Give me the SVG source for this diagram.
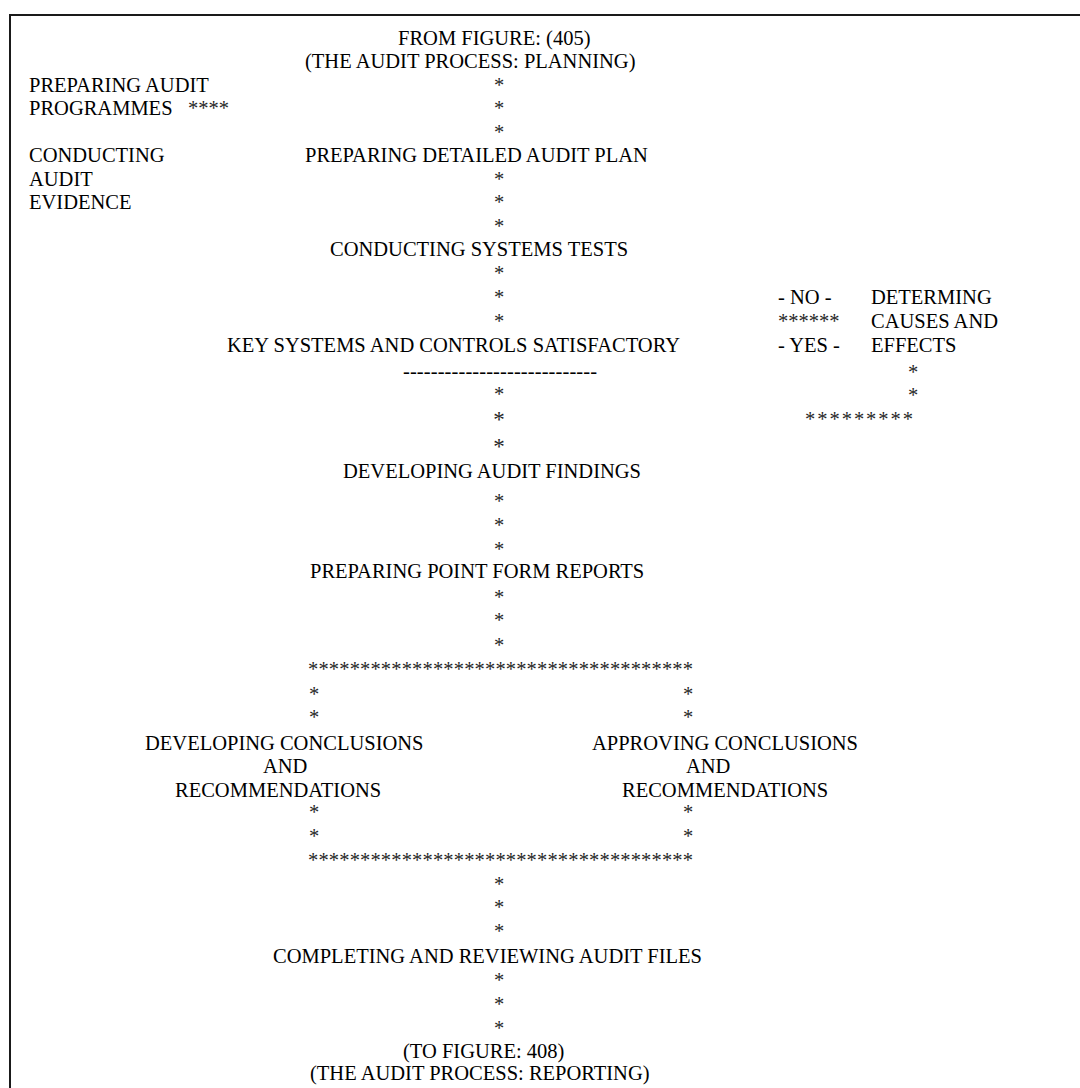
<svg xmlns="http://www.w3.org/2000/svg" width="1080" height="1088" viewBox="0 0 1080 1088">
<style>
text{font-family:"Liberation Serif","Times New Roman",serif;font-size:20.5px;fill:#000}
.c{text-anchor:middle}
.s{fill:#262626}
.big{font-size:23px}
.frame{fill:none;stroke:#1a1a1a;stroke-width:2}
</style>
<rect width="1080" height="1088" fill="#fff"/>
<path class="frame" d="M10 1088 V15 H1080"/>
<g id="n-from">
<text x="398" y="45">FROM FIGURE: (405)</text>
<text x="305" y="68">(THE AUDIT PROCESS: PLANNING)</text>
</g>
<g id="n-programmes">
<text x="29" y="92">PREPARING AUDIT</text>
<text x="29" y="115">PROGRAMMES</text>
</g>
<g id="n-evidence">
<text x="29" y="162">CONDUCTING</text>
<text x="29" y="186">AUDIT</text>
<text x="29" y="209">EVIDENCE</text>
</g>
<g id="n-plan"><text x="305" y="162">PREPARING DETAILED AUDIT PLAN</text></g>
<g id="n-tests"><text x="330" y="256">CONDUCTING SYSTEMS TESTS</text></g>
<g id="n-decision"><text x="227" y="352">KEY SYSTEMS AND CONTROLS SATISFACTORY</text></g>
<g id="n-causes">
<text x="871" y="304">DETERMING</text>
<text x="871" y="328">CAUSES AND</text>
<text x="871" y="352">EFFECTS</text>
</g>
<g id="n-findings"><text x="343" y="478">DEVELOPING AUDIT FINDINGS</text></g>
<g id="n-pointform"><text x="310" y="578">PREPARING POINT FORM REPORTS</text></g>
<g id="n-developing">
<text x="145" y="750">DEVELOPING CONCLUSIONS</text>
<text x="263" y="773">AND</text>
<text x="175" y="797">RECOMMENDATIONS</text>
</g>
<g id="n-approving">
<text x="592" y="750">APPROVING CONCLUSIONS</text>
<text x="686" y="773">AND</text>
<text x="622" y="797">RECOMMENDATIONS</text>
</g>
<g id="n-completing"><text x="273" y="963">COMPLETING AND REVIEWING AUDIT FILES</text></g>
<g id="n-to">
<text x="403" y="1058">(TO FIGURE: 408)</text>
<text x="310" y="1080">(THE AUDIT PROCESS: REPORTING)</text>
</g>
<g id="connectors">
<text class="s" x="188" y="115">****</text>
<text class="c s" x="499" y="92">*</text>
<text class="c s" x="499" y="115">*</text>
<text class="c s" x="499" y="139">*</text>
<text class="c s" x="499" y="186">*</text>
<text class="c s" x="499" y="209">*</text>
<text class="c s" x="499" y="233">*</text>
<text class="c s" x="499" y="280">*</text>
<text class="c s" x="499" y="304">*</text>
<text class="c s" x="499" y="328">*</text>
<text x="778" y="304">- NO -</text>
<text class="s" x="778" y="328">******</text>
<text x="778" y="352">- YES -</text>
<text x="403" y="378" textLength="194">----------------------------</text>
<text class="c s" x="499" y="401">*</text>
<text class="c s big" x="499" y="427">*</text>
<text class="c s big" x="499" y="454">*</text>
<text class="c s" x="913" y="379">*</text>
<text class="c s" x="913" y="402">*</text>
<text class="s" x="805" y="426" textLength="108">*********</text>
<text class="c s" x="499" y="508">*</text>
<text class="c s" x="499" y="532">*</text>
<text class="c s" x="499" y="556">*</text>
<text class="c s" x="499" y="604">*</text>
<text class="c s" x="499" y="627">*</text>
<text class="c s" x="499" y="652">*</text>
<text class="s" x="308" y="676" textLength="385">*************************************</text>
<text class="c s" x="314" y="701">*</text>
<text class="c s" x="314" y="724">*</text>
<text class="c s" x="688" y="701">*</text>
<text class="c s" x="688" y="724">*</text>
<text class="c s" x="314" y="819">*</text>
<text class="c s" x="314" y="843">*</text>
<text class="c s" x="688" y="819">*</text>
<text class="c s" x="688" y="843">*</text>
<text class="s" x="308" y="867" textLength="385">*************************************</text>
<text class="c s" x="499" y="891">*</text>
<text class="c s" x="499" y="914">*</text>
<text class="c s" x="499" y="938">*</text>
<text class="c s" x="499" y="987">*</text>
<text class="c s" x="499" y="1011">*</text>
<text class="c s" x="499" y="1035">*</text>
</g>
</svg>
